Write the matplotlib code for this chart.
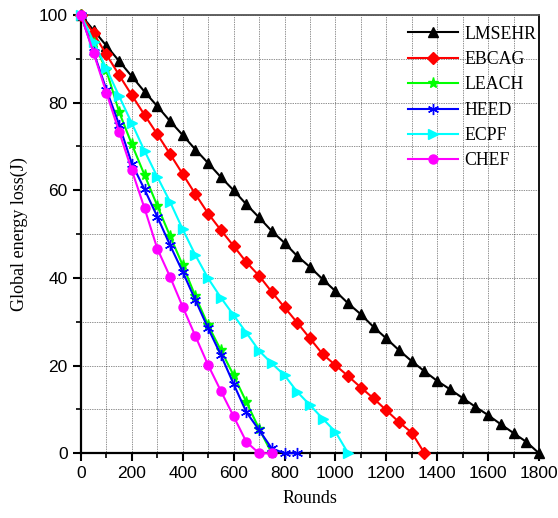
import matplotlib
matplotlib.use("Agg")
import matplotlib.pyplot as plt
from matplotlib.ticker import MultipleLocator

# 数据 (每50轮一个点)
rounds_lmsehr = [0, 50, 100, 150, 200, 250, 300, 350, 400, 450, 500, 550, 600, 650, 700, 750, 800, 850, 900,
                 950, 1000, 1050, 1100, 1150, 1200, 1250, 1300, 1350, 1400, 1450, 1500, 1550, 1600, 1650, 1700,
                 1750, 1800]
lmsehr = [100, 96.5, 93, 89.5, 86, 82.5, 79.2, 75.8, 72.6, 69.3, 66.2, 63, 60, 56.8, 53.8, 50.7, 48, 45, 42.5,
          39.7, 37, 34.2, 31.7, 28.8, 26.2, 23.5, 21, 18.7, 16.5, 14.6, 12.6, 10.6, 8.7, 6.6, 4.6, 2.6, 0]

rounds_ebcag = [0, 50, 100, 150, 200, 250, 300, 350, 400, 450, 500, 550, 600, 650, 700, 750, 800, 850, 900,
                950, 1000, 1050, 1100, 1150, 1200, 1250, 1300, 1350]
ebcag = [100, 95.8, 91, 86.3, 81.7, 77.2, 72.8, 68.3, 63.7, 59.1, 54.7, 50.9, 47.3, 43.6, 40.5, 36.8, 33.3,
         29.8, 26.2, 22.6, 20.1, 17.6, 15, 12.5, 9.8, 7.1, 4.7, 0]

rounds_leach = [0, 50, 100, 150, 200, 250, 300, 350, 400, 450, 500, 550, 600, 650, 700, 750]
leach = [100, 93.7, 87.4, 77.9, 70.5, 63.5, 56.5, 49.6, 42.9, 35.8, 29.2, 23.5, 17.8, 11.7, 5.6, 0]

rounds_heed = [0, 50, 100, 150, 200, 250, 300, 350, 400, 450, 500, 550, 600, 650, 700, 750, 800, 850]
heed = [100, 91.5, 83, 75, 66.1, 60.2, 54, 47.5, 41.4, 34.9, 28.5, 22.4, 15.8, 9.4, 5.3, 1.1, 0, 0]

rounds_ecpf = [0, 50, 100, 150, 200, 250, 300, 350, 400, 450, 500, 550, 600, 650, 700, 750, 800, 850, 900,
               950, 1000, 1050]
ecpf = [100, 93.9, 87.8, 81.5, 75.3, 69, 63.1, 57.4, 51.1, 45.2, 39.9, 35.5, 31.5, 27.5, 23.4, 20.5, 17.8,
        14, 11, 7.9, 4.9, 0]

rounds_chef = [0, 50, 100, 150, 200, 250, 300, 350, 400, 450, 500, 550, 600, 650, 700, 750]
chef = [100, 91.3, 82.3, 73.4, 64.6, 55.9, 46.7, 40.3, 33.4, 26.7, 20.1, 14.2, 8.4, 2.6, 0, 0]

series = [
    ('LMSEHR', rounds_lmsehr, lmsehr, 'black', '^', 7),
    ('EBCAG', rounds_ebcag, ebcag, 'red', 'D', 6),
    ('LEACH', rounds_leach, leach, '#00ff00', '*', 8),
    ('HEED', rounds_heed, heed, 'blue', (6, 2, 0), 8),
    ('ECPF', rounds_ecpf, ecpf, 'cyan', '>', 7),
    ('CHEF', rounds_chef, chef, 'magenta', 'o', 6.5),
]

fig = plt.figure(figsize=(5.58, 5.18), dpi=100)
ax = fig.add_axes([0.145, 0.125, 0.821, 0.846])

for name, x, y, color, marker, ms in series:
    ax.plot(x, y, color=color, marker=marker, markersize=ms, linewidth=1.5,
            markeredgecolor=color, markerfacecolor=color, label=name, clip_on=False, zorder=3)

ax.set_xlim(0, 1800)
ax.set_ylim(0, 100)
ax.xaxis.set_major_locator(MultipleLocator(200))
ax.xaxis.set_minor_locator(MultipleLocator(100))
ax.yaxis.set_major_locator(MultipleLocator(20))
ax.yaxis.set_minor_locator(MultipleLocator(10))

# 网格 (点线)
ax.grid(True, which='both', color='#222222', linestyle=(0, (1, 1.5)), linewidth=0.5)
ax.set_axisbelow(True)

ax.tick_params(which='major', direction='out', length=6, width=1.5, labelsize=12.5,
               top=False, right=False)
ax.tick_params(which='minor', direction='out', length=3.5, width=1.2, top=False, right=False)
for lab in ax.get_xticklabels() + ax.get_yticklabels():
    lab.set_fontfamily('Liberation Sans')

for side in ['left', 'bottom']:
    ax.spines[side].set_linewidth(1.6)
for side in ['top', 'right']:
    ax.spines[side].set_linewidth(1.3)
ax.spines['top'].set_color('#555555')

ax.set_xlabel('Rounds', fontsize=13, family='Liberation Serif', labelpad=6)
ax.set_ylabel('Global energy loss(J)', fontsize=13, family='Liberation Serif', labelpad=8)

leg = ax.legend(loc='upper right', frameon=False, prop={'family': 'Liberation Serif', 'size': 12.8},
                handlelength=2.8, handletextpad=0.4, labelspacing=0.47,
                borderaxespad=0.2, bbox_to_anchor=(1.018, 1.0))

fig.savefig('out.png', dpi=100)
